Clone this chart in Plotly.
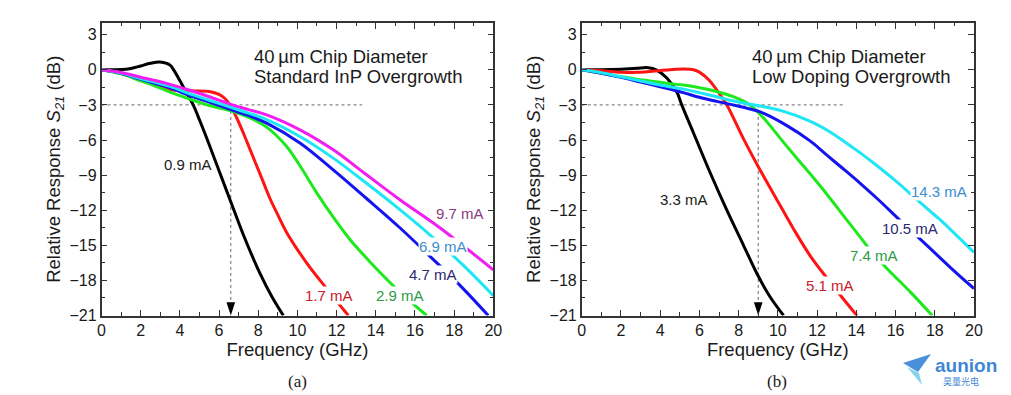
import plotly.graph_objects as go

# ---------------- data ----------------
# Panel (a): 40 um chip, standard InP overgrowth
a_f_09 = [0, 1, 1.5, 2, 2.5, 3, 3.5, 3.7, 4.17, 4.68, 5.03, 5.5, 5.88, 6.56, 7.24, 8.09, 8.7, 9.28]
a_s_09 = [0, 0.02, 0.12, 0.33, 0.56, 0.66, 0.4, -0.05, -1.45, -3.0, -4.4, -6.4, -8.1, -11.1, -14.1, -17.4, -19.4, -21]
a_f_17 = [0, 1, 2, 3, 3.5, 4.5, 5.5, 6.0, 6.3, 6.56, 6.9, 7.24, 7.58, 7.92, 8.26, 8.6, 9.0, 9.45, 10.47, 11.49, 12.6]
a_s_17 = [0, -0.3, -0.85, -1.45, -1.7, -1.8, -1.85, -2.1, -2.45, -3.0, -4.1, -5.4, -6.8, -8.2, -9.6, -11.0, -12.4, -13.9, -16.5, -18.7, -21]
a_f_29 = [0, 1, 2, 2.8, 3.5, 4.5, 5.5, 6.6, 7.5, 8.43, 9.45, 10.13, 10.98, 11.83, 12.68, 13.53, 14.38, 15.23, 16.6]
a_s_29 = [0, -0.35, -0.95, -1.43, -1.9, -2.5, -3.05, -3.5, -4.05, -4.9, -6.55, -8.2, -10.5, -12.6, -14.5, -16.1, -17.6, -19.0, -21]
a_f_47 = [0, 1, 2, 2.8, 3.5, 4.5, 5.5, 6.6, 7.5, 8.43, 10.13, 11.83, 13.53, 15.23, 16.93, 18.46, 19.74]
a_s_47 = [0, -0.3, -0.8, -1.2, -1.55, -2.2, -2.75, -3.4, -3.9, -4.55, -6.25, -8.55, -11.0, -13.5, -16.2, -18.7, -21]
a_f_69 = [0, 1, 2, 2.8, 3.5, 4.5, 5.5, 6.6, 7.5, 8.43, 10.13, 11.83, 13.53, 15.23, 16.76, 18.46, 20]
a_s_69 = [0, -0.28, -0.75, -1.1, -1.42, -2.05, -2.6, -3.2, -3.7, -4.25, -5.7, -7.55, -9.7, -11.95, -14.1, -16.7, -19.3]
a_f_97 = [0, 1, 2, 2.8, 3.5, 4.5, 5.5, 6.6, 7.5, 8.43, 10.13, 11.83, 13.53, 15.23, 17.27, 20]
a_s_97 = [0, -0.23, -0.63, -0.94, -1.25, -1.75, -2.3, -2.95, -3.4, -3.85, -5.13, -6.84, -8.97, -11.1, -13.5, -17.1]
a_labels = ["0.9 mA", "1.7 mA", "2.9 mA", "4.7 mA", "6.9 mA", "9.7 mA"]
a_cutoff = 6.6

# Panel (b): 40 um chip, low doping overgrowth
b_f_33 = [0, 1, 2, 2.8, 3.4, 3.8, 4.34, 4.85, 5.1, 5.7, 6.55, 7.4, 8.25, 8.96, 9.6, 10.29]
b_s_33 = [0, 0.0, 0.05, 0.14, 0.18, 0.0, -0.7, -1.9, -3.0, -5.4, -8.8, -12.0, -15.0, -17.5, -19.4, -21]
b_f_51 = [0, 1, 2, 2.8, 3.6, 4.5, 5.2, 5.7, 6.0, 6.5, 7.0, 7.4, 8.25, 9.01, 9.95, 10.8, 11.65, 12.5, 13.3, 14.03]
b_s_51 = [0, -0.08, -0.2, -0.22, -0.12, 0.0, 0.06, 0.0, -0.2, -0.9, -2.0, -3.0, -5.9, -8.3, -11.1, -13.6, -15.9, -17.8, -19.5, -21]
b_f_74 = [0, 1, 2, 2.8, 3.48, 4.5, 5.18, 6.2, 6.88, 7.73, 8.58, 9.26, 10.29, 11.14, 11.9, 12.67, 13.36, 14.2, 14.7, 15.57, 16.76, 17.87]
b_s_74 = [0, -0.3, -0.6, -0.8, -0.95, -1.2, -1.3, -1.6, -1.85, -2.3, -3.0, -4.1, -6.2, -7.9, -9.4, -11.0, -12.5, -14.3, -15.4, -17.0, -19.0, -21]
b_f_105 = [0, 1, 2, 3, 4, 5.18, 6.0, 6.88, 7.7, 8.58, 9.1, 10.29, 11.66, 12.5, 13.36, 14.2, 15.06, 16.25, 17.6, 18.8, 20]
b_s_105 = [0, -0.3, -0.65, -1.05, -1.45, -1.95, -2.35, -2.7, -3.0, -3.35, -3.6, -4.6, -6.1, -7.3, -8.5, -9.7, -11.0, -12.9, -15.0, -16.9, -18.7]
b_f_143 = [0, 1, 2, 3, 4, 5.18, 6.0, 6.88, 7.7, 8.58, 9.1, 10.29, 11.66, 12.5, 13.36, 14.2, 15.06, 15.9, 16.76, 17.6, 18.46, 19.2, 20]
b_s_143 = [0, -0.25, -0.6, -0.95, -1.3, -1.65, -1.95, -2.3, -2.65, -2.95, -3.1, -3.55, -4.4, -5.15, -6.1, -7.1, -8.2, -9.35, -10.6, -11.85, -13.1, -14.3, -15.6]
b_labels = ["3.3 mA", "5.1 mA", "7.4 mA", "10.5 mA", "14.3 mA"]
b_cutoff = 9.0

ref_level = -3      # -3 dB reference
ref_end = 13.3      # end of dotted -3 dB line (GHz)
y_min, y_max = -21, 4
x_min, x_max = 0, 20

# ---------------- styles ----------------
LINE_COLORS = ["#000000", "#ff1414", "#1ee81e", "#1414f0", "#1ee6f5", "#f01ef0"]
LABEL_COLORS = ["#1a1a1a", "#c8202a", "#2c9a46", "#2b2870", "#3b8ecb", "#8c3b82"]
FONT = "Liberation Sans, Arial, sans-serif"
SERIF = "Liberation Serif, Times New Roman, serif"
W, H = 1011, 395

fig = go.Figure()

a_series = [(a_f_09, a_s_09), (a_f_17, a_s_17), (a_f_29, a_s_29),
            (a_f_47, a_s_47), (a_f_69, a_s_69), (a_f_97, a_s_97)]
b_series = [(b_f_33, b_s_33), (b_f_51, b_s_51), (b_f_74, b_s_74),
            (b_f_105, b_s_105), (b_f_143, b_s_143)]

# reference dotted lines
for xr, yr, cut in [("x", "y", a_cutoff), ("x2", "y2", b_cutoff)]:
    fig.add_trace(go.Scatter(x=[x_min, ref_end], y=[ref_level, ref_level], xaxis=xr, yaxis=yr,
                             mode="lines", line=dict(color="#666666", width=1, dash="dot"),
                             hoverinfo="skip", showlegend=False))
    fig.add_trace(go.Scatter(x=[cut, cut], y=[ref_level, y_min], xaxis=xr, yaxis=yr,
                             mode="lines", line=dict(color="#666666", width=1, dash="dot"),
                             hoverinfo="skip", showlegend=False))

for i, (f, s) in enumerate(a_series):
    fig.add_trace(go.Scatter(x=f, y=s, xaxis="x", yaxis="y", mode="lines",
                             line=dict(color=LINE_COLORS[i], width=3, shape="spline", smoothing=1.0),
                             name=a_labels[i], showlegend=False))
for i, (f, s) in enumerate(b_series):
    fig.add_trace(go.Scatter(x=f, y=s, xaxis="x2", yaxis="y2", mode="lines",
                             line=dict(color=LINE_COLORS[i], width=3, shape="spline", smoothing=1.0),
                             name=b_labels[i], showlegend=False))

# arrow heads at the cutoff frequencies
for xr, yr, cut in [("x", "y", a_cutoff), ("x2", "y2", b_cutoff)]:
    fig.add_trace(go.Scatter(x=[cut], y=[y_min], xaxis=xr, yaxis=yr, mode="markers",
                             marker=dict(symbol="arrow", angle=180, size=14, color="black"),
                             cliponaxis=False, hoverinfo="skip", showlegend=False))

# ---------------- axes ----------------
def xaxis(domain, anchor):
    return dict(domain=domain, anchor=anchor, range=[x_min, x_max], dtick=2, tick0=0,
                automargin=False,
                ticks="inside", ticklen=6, tickwidth=1.3, tickcolor="#333",
                showline=True, linecolor="#333", linewidth=1.5, mirror="allticks",
                showgrid=False, zeroline=False,
                minor=dict(dtick=1, ticks="inside", ticklen=3.5, tickwidth=1.3, tickcolor="#333"),
                tickfont=dict(family=FONT, size=16, color="#1a1a1a"),
                title=dict(text="Frequency (GHz)", font=dict(family=FONT, size=18.5, color="#1a1a1a"),
                           standoff=2))

def yaxis(domain, anchor):
    return dict(domain=domain, anchor=anchor, range=[y_min, y_max], dtick=3, tick0=0,
                automargin=False,
                ticks="inside", ticklen=6, tickwidth=1.3, tickcolor="#333",
                showline=True, linecolor="#333", linewidth=1.5, mirror="allticks",
                showgrid=False, zeroline=False,
                minor=dict(dtick=1.5, ticks="inside", ticklen=3.5, tickwidth=1.3, tickcolor="#333"),
                tickfont=dict(family=FONT, size=16, color="#1a1a1a"),
                title=dict(text="Relative Response <i>S</i><sub><i>21</i></sub> (dB)",
                           font=dict(family=FONT, size=18.5, color="#1a1a1a"), standoff=4))

yd = [1 - 315.5 / H, 1 - 23 / H]
fig.update_layout(
    width=W, height=H, margin=dict(l=0, r=0, t=0, b=0, autoexpand=False),
    paper_bgcolor="white", plot_bgcolor="white", showlegend=False,
    xaxis=xaxis([101.5 / W, 493.3 / W], "y"),
    yaxis=yaxis(yd, "x"),
    xaxis2=xaxis([581.7 / W, 974 / W], "y2"),
    yaxis2=yaxis(yd, "x2"),
)

ann = []
# panel headers (two lines each, placed separately for tight line spacing)
for xr, yr, hx, line2 in [("x", "y", 7.68, "Standard InP Overgrowth"),
                          ("x2", "y2", 8.59, "Low Doping Overgrowth")]:
    ann.append(dict(x=hx, y=1.11, xref=xr, yref=yr, xanchor="left", yanchor="middle",
                    text="40\u2009µm Chip Diameter", showarrow=False,
                    font=dict(family=FONT, size=18.5, color="#1a1a1a")))
    ann.append(dict(x=hx, y=-0.6, xref=xr, yref=yr, xanchor="left", yanchor="middle",
                    text=line2, showarrow=False,
                    font=dict(family=FONT, size=18.5, color="#1a1a1a")))
# curve labels
a_label_pos = [(4.4, -8.1), (11.6, -19.3), (15.23, -19.3), (16.93, -17.5), (17.44, -15.1), (18.28, -12.3)]
for i, (lx, ly) in enumerate(a_label_pos):
    ann.append(dict(x=lx, y=ly, xref="x", yref="y", xanchor="center", yanchor="middle",
                    text=a_labels[i], showarrow=False,
                    bgcolor="white" if i > 0 else "rgba(0,0,0,0)", borderpad=0,
                    font=dict(family=FONT, size=15, color=LABEL_COLORS[i])))
b_label_pos = [(5.2, -11.1), (12.68, -18.4), (14.9, -15.9), (16.76, -13.57), (18.2, -10.4)]
for i, (lx, ly) in enumerate(b_label_pos):
    ann.append(dict(x=lx, y=ly, xref="x2", yref="y2", xanchor="center", yanchor="middle",
                    text=b_labels[i], showarrow=False,
                    bgcolor="white" if i > 0 else "rgba(0,0,0,0)", borderpad=0,
                    font=dict(family=FONT, size=15, color=LABEL_COLORS[i])))
# captions
ann.append(dict(x=297 / W, y=1 - 381 / H, xref="paper", yref="paper", xanchor="center", yanchor="middle",
                text="(a)", showarrow=False, font=dict(family=SERIF, size=17, color="#1a1a1a")))
ann.append(dict(x=777 / W, y=1 - 381 / H, xref="paper", yref="paper", xanchor="center", yanchor="middle",
                text="(b)", showarrow=False, font=dict(family=SERIF, size=17, color="#1a1a1a")))
# watermark logo
ann.append(dict(x=966 / W, y=1 - 365 / H, xref="paper", yref="paper", xanchor="center", yanchor="middle",
                text="<b>aunion</b>", showarrow=False, font=dict(family=FONT, size=19, color="#3f86d6")))
ann.append(dict(x=961 / W, y=1 - 381 / H, xref="paper", yref="paper", xanchor="center", yanchor="middle",
                text="昊量光电", showarrow=False, font=dict(family="Noto Sans CJK SC", size=9, color="#3f86d6")))
fig.update_layout(annotations=ann)


def pp(px, py):
    return f"{px / W:.4f},{1 - py / H:.4f}"


fig.update_layout(shapes=[
    dict(type="path", xref="paper", yref="paper", line=dict(width=0), fillcolor="#4a90d9",
         path=f"M{pp(903, 363)} L{pp(931, 354)} L{pp(918, 372)} Z"),
    dict(type="path", xref="paper", yref="paper", line=dict(width=0), fillcolor="#86d3ec",
         path=f"M{pp(907, 367)} L{pp(919, 373)} L{pp(922, 385)} Z"),
])

fig.write_html("out.html", config={"displayModeBar": False},
               post_script="document.body.style.margin='0';")
